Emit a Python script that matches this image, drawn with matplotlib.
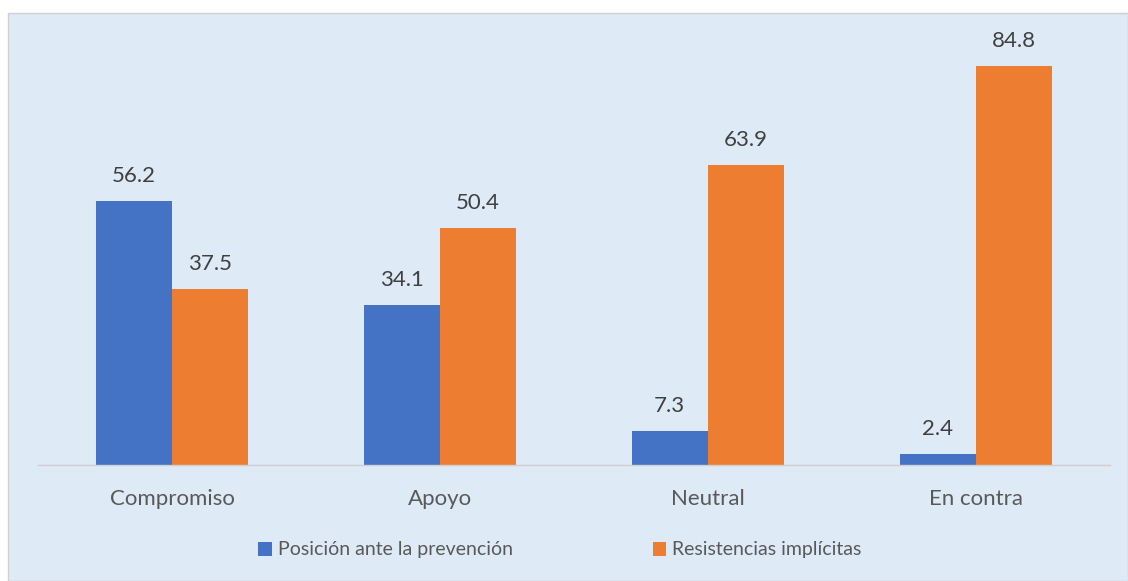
import numpy as np
import matplotlib.pyplot as plt
from matplotlib.patches import Rectangle

categorias = ["Compromiso", "Apoyo", "Neutral", "En contra"]
posicion = [56.2, 34.1, 7.3, 2.4]
resistencias = [37.5, 50.4, 63.9, 84.8]
series = ["Posición ante la prevención", "Resistencias implícitas"]

AZUL = "#4472C4"
NARANJA = "#ED7D31"
FONDO = "#DEEAF6"

plt.rcParams['font.family'] = ['Lato', 'DejaVu Sans']

fig = plt.figure(figsize=(11.28, 5.81), dpi=100)
fig.patch.set_facecolor("white")
# panel de fondo del gráfico
fondo = Rectangle((8 / 1128, 0), 1 - 8 / 1128, (581 - 13) / 581,
                  transform=fig.transFigure, facecolor=FONDO,
                  edgecolor="#D0D0D0", linewidth=1, zorder=-10)
fig.patches.append(fondo)

ax = fig.add_axes([38 / 1128, 116 / 581, 1072 / 1128, 423 / 581])
ax.set_facecolor("none")
ax.set_zorder(5)

x = np.arange(len(categorias))
w = 0.285
b1 = ax.bar(x - w / 2, posicion, w, color=AZUL, label=series[0])
b2 = ax.bar(x + w / 2, resistencias, w, color=NARANJA, label=series[1])

for barras, vals in ((b1, posicion), (b2, resistencias)):
    for r, v in zip(barras, vals):
        ax.annotate(f"{v:.1f}", (r.get_x() + r.get_width() / 2, v),
                    xytext=(0, 18), textcoords="offset points",
                    ha="center", va="center", fontsize=16, color="#404040")

ax.set_xlim(-0.5, len(categorias) - 0.5)
ax.set_ylim(0, 90)
ax.set_xticks(x)
ax.set_xticklabels(categorias, fontsize=16, color="#595959")
ax.tick_params(axis="x", length=0, pad=17)
ax.set_yticks([])
for s in ("top", "right", "left"):
    ax.spines[s].set_visible(False)
ax.spines["bottom"].set_color("#D0D0D0")
ax.spines["bottom"].set_linewidth(1)

leg = fig.legend(handles=[b1, b2], labels=series, loc="center",
                 bbox_to_anchor=(560 / 1128, 1 - 550 / 581), ncol=2, frameon=False,
                 fontsize=14, handlelength=0.7, handleheight=0.7, handletextpad=0.3,
                 columnspacing=7.2, labelcolor="#595959")

fig.savefig("out.png", dpi=100)
